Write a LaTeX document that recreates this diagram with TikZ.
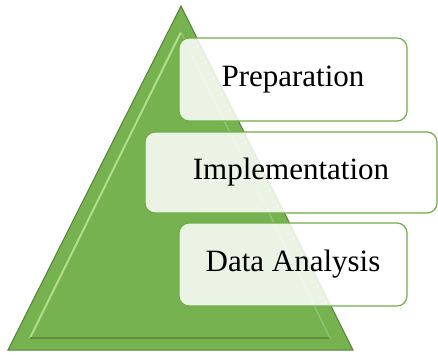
\documentclass[tikz,border=0pt]{standalone}
\usepackage{fontspec}
\setmainfont{Liberation Serif}
\usepackage{tikz}
\usetikzlibrary{positioning, calc}
\definecolor{pyrGreen}{RGB}{118,178,80}
\definecolor{pyrDark}{RGB}{84,130,53}
\definecolor{pyrLight}{RGB}{176,222,140}
\definecolor{boxEdge}{RGB}{112,173,71}
\tikzstyle{stage} = [draw=boxEdge, line width=1.2pt, rounded corners=10pt, fill=white, fill opacity=0.85, text opacity=1, font=\fontsize{31}{36}\selectfont, inner sep=0pt]

\begin{document}
\begin{tikzpicture}[x=1pt, y=-1pt]
    \useasboundingbox (0,0) rectangle (438,354);

    % Pyramid
    \coordinate (top) at (181,6);
    \coordinate (bl) at (8,350);
    \coordinate (br) at (353,350);
    \fill[pyrGreen] (top) -- (bl) -- (br) -- cycle;
    \draw[pyrDark, line width=1pt] (top) -- (bl) -- (br) -- cycle;
    % bevel edges
    \draw[pyrLight, line width=2pt] (181,32) -- (30,338);
    \draw[pyrDark!70!pyrGreen, line width=2pt] (30,338) -- (330,338);
    \draw[pyrGreen!80!white, line width=1.5pt] (181,32) -- (330,338);

    % Stages
    \node[stage, minimum width=228pt, minimum height=83pt] (prep) at (293,79.5) {Preparation};
    \node[stage, minimum width=292pt, minimum height=81pt] (impl) at (291,172.5) {Implementation};
    \node[stage, minimum width=228pt, minimum height=83pt] (analysis) at (293,264.5) {Data Analysis};
\end{tikzpicture}
\end{document}
